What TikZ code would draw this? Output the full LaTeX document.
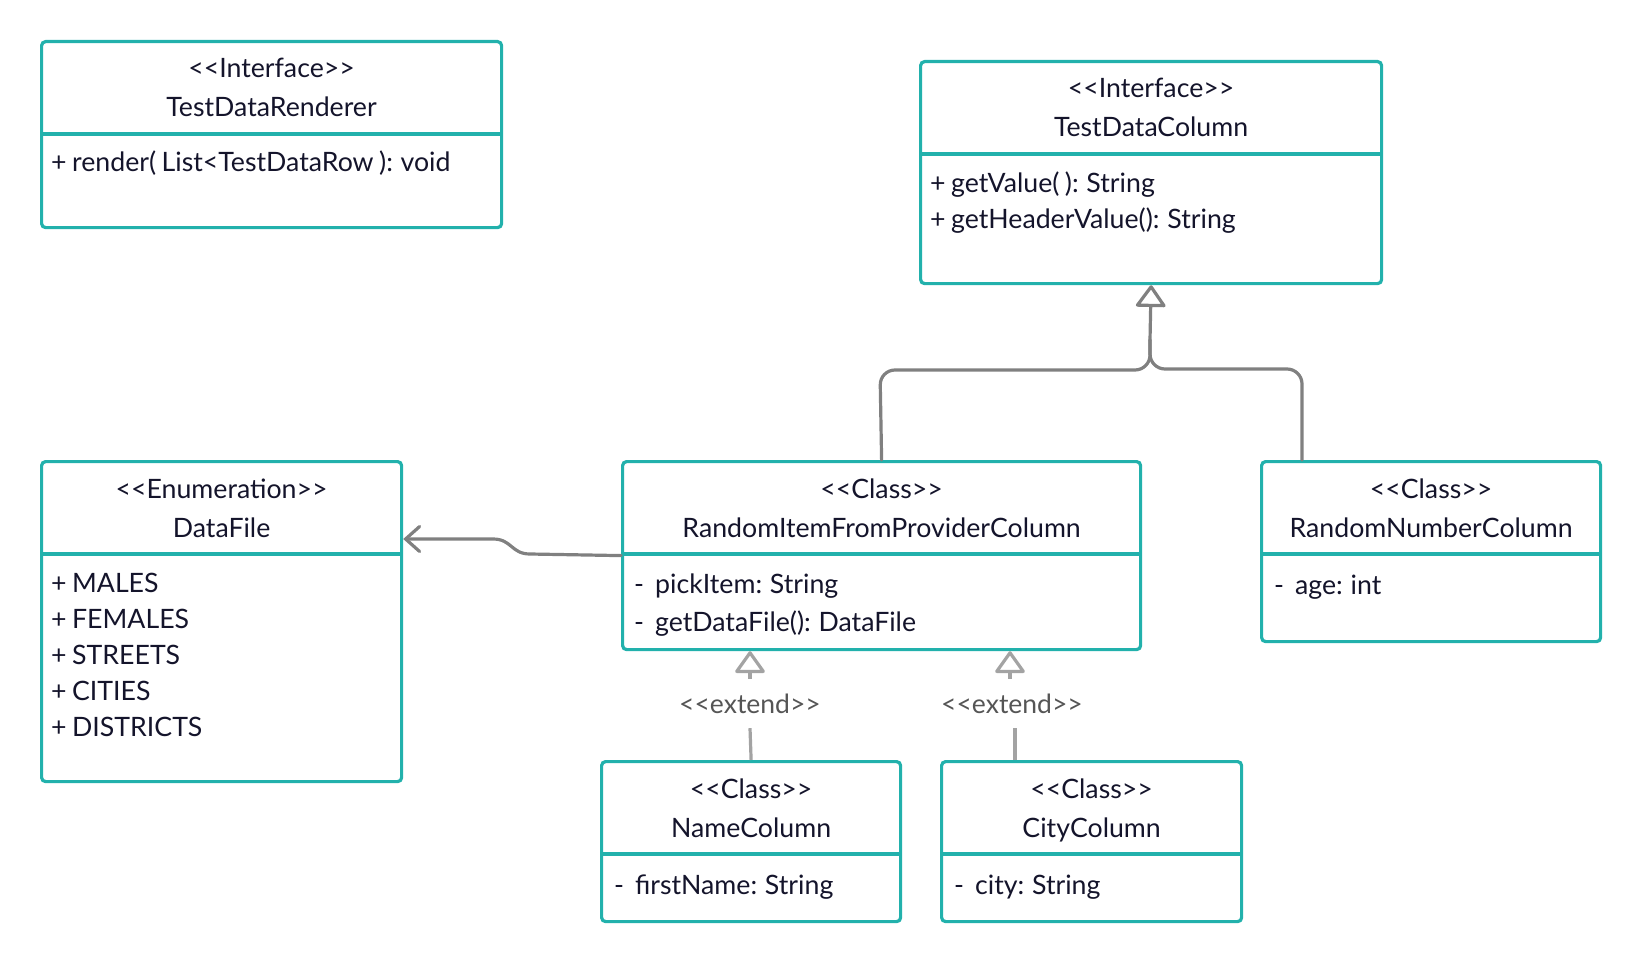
\documentclass[tikz,border=0pt]{standalone}
\usepackage{fontspec}
\setmainfont{Lato}[WordSpace=0.8]
\usetikzlibrary{arrows.meta,calc}
\definecolor{tealb}{HTML}{22B1AC}
\definecolor{conngray}{HTML}{808080}
\definecolor{extgray}{HTML}{A3A3A3}
\definecolor{labgray}{HTML}{555555}
\definecolor{txt}{HTML}{14142B}
\newcommand\stl{<\kern0pt<}
\newcommand\stg{>\kern0pt>}
\begin{document}
\begin{tikzpicture}[x=1pt,y=-1pt,
  font=\fontsize{26.7}{32}\selectfont,
  umlbox/.style={draw=tealb, line width=3.2pt, rounded corners=4pt, inner sep=0pt, anchor=north west},
  divider/.style={draw=tealb, line width=3.2pt},
  hdr/.style={anchor=base, text=txt, inner sep=0pt},
  item/.style={anchor=base west, text=txt, inner sep=0pt},
  conn/.style={draw=conngray, line width=3.2pt, line cap=round, line join=round},
  ext/.style={draw=extgray, line width=3.2pt},
  extlbl/.style={text=labgray, inner sep=0pt, minimum height=49pt, font=\fontsize{26.5}{30}\selectfont},
  tri/.style={-{Triangle[open, length=23pt, width=32pt, line join=round]}},
  barb/.style={-{Straight Barb[length=14pt, width=25pt, line cap=round]}}
]
\useasboundingbox (0,0) rectangle (1640,960);

% TestDataRenderer
\node[umlbox, minimum width=460pt, minimum height=186pt] (tdr) at (40,40) {};
\draw[divider] (tdr.west |- 0,134) -- (tdr.east |- 0,134);
\node[hdr] (tdrs) at (tdr.north |- 0,78) {\stl Interface\stg};
\node[hdr] (tdrn) at (tdr.north |- 0,117) {TestDataRenderer};
\node[item] (tdr1) at (51,172) {+ render( List<TestDataRow ): void};

% TestDataColumn
\node[umlbox, minimum width=461pt, minimum height=222pt] (tdc) at (919,60) {};
\draw[divider] (tdc.west |- 0,154) -- (tdc.east |- 0,154);
\node[hdr] (tdcs) at (tdc.north |- 0,98) {\stl Interface\stg};
\node[hdr] (tdcn) at (tdc.north |- 0,137) {TestDataColumn};
\node[item] (tdc1) at (930,193) {+ getValue( ): String};
\node[item] (tdc2) at (930,229) {+ getHeaderValue(): String};

% DataFile
\node[umlbox, minimum width=360pt, minimum height=320pt] (df) at (40,460) {};
\draw[divider] (df.west |- 0,554) -- (df.east |- 0,554);
\node[hdr] (dfs) at (df.north |- 0,498) {\stl Enumeration\stg};
\node[hdr] (dfn) at (df.north |- 0,537) {DataFile};
\node[item] (df1) at (51,592) {+ MALES};
\node[item] (df2) at (51,628) {+ FEMALES};
\node[item] (df3) at (51,664) {+ STREETS};
\node[item] (df4) at (51,700) {+ CITIES};
\node[item] (df5) at (51,736) {+ DISTRICTS};

% RandomItemFromProviderColumn
\node[umlbox, minimum width=518pt, minimum height=188pt] (rif) at (621,460) {};
\draw[divider] (rif.west |- 0,554) -- (rif.east |- 0,554);
\node[hdr] (rifs) at (rif.north |- 0,498) {\stl Class\stg};
\node[hdr] (rifn) at (rif.north |- 0,537) {RandomItemFromProviderColumn};
\node[item] (rif1) at (634,593) {-\hspace{11pt}pickItem: String};
\node[item] (rif2) at (634,631) {-\hspace{11pt}getDataFile(): DataFile};

% RandomNumberColumn
\node[umlbox, minimum width=339pt, minimum height=180pt] (rnc) at (1260,460) {};
\draw[divider] (rnc.west |- 0,554) -- (rnc.east |- 0,554);
\node[hdr] (rncs) at (rnc.north |- 0,498) {\stl Class\stg};
\node[hdr] (rncn) at (rnc.north |- 0,537) {RandomNumberColumn};
\node[item] (rnc1) at (1274,594) {-\hspace{11pt}age: int};

% NameColumn
\node[umlbox, minimum width=299pt, minimum height=160pt] (nc) at (600,760) {};
\draw[divider] (nc.west |- 0,854) -- (nc.east |- 0,854);
\node[hdr] (ncs) at (nc.north |- 0,798) {\stl Class\stg};
\node[hdr] (ncn) at (nc.north |- 0,837) {NameColumn};
\node[item] (nc1) at (614,894) {-\hspace{11pt}firstName: String};

% CityColumn
\node[umlbox, minimum width=300pt, minimum height=160pt] (cc) at (940,760) {};
\draw[divider] (cc.west |- 0,854) -- (cc.east |- 0,854);
\node[hdr] (ccs) at (cc.north |- 0,798) {\stl Class\stg};
\node[hdr] (ccn) at (cc.north |- 0,837) {CityColumn};
\node[item] (cc1) at (954,894) {-\hspace{11pt}city: String};

% Realization to TestDataColumn
\coordinate (jt) at (1150,340);
\draw[conn, rounded corners=15pt] (rif.north) -- (880,370) -- (1150,370) -- (jt);
\draw[conn, rounded corners=15pt] ($(rnc.north west)+(42,0)$) -- (1302,369) -- (1150,369) -- (jt);
\draw[conn, tri] (jt) -- (tdc.south);

% Association to DataFile
\draw[conn, barb] (rif.west) -- (530,554) .. controls (511,554) and (512,539) .. (493,539) -- (df.north east |- 0,539);

% Extend links
\node[extlbl] (e1) at (750,703.5) {\stl extend\stg};
\draw[ext] (nc.north) -- (e1.south);
\draw[ext, tri] (e1.north) -- (e1.north |- rif.south);

\node[extlbl] (e2) at (1012,703.5) {\stl extend\stg};
\coordinate (e2b) at ($(cc.north west)+(75,0)$);
\coordinate (e2t) at ($(e2.north)+(-2,0)$);
\draw[ext] (e2b) -- (e2b |- e2.south);
\draw[ext, tri] (e2t) -- (e2t |- rif.south);
\end{tikzpicture}
\end{document}
